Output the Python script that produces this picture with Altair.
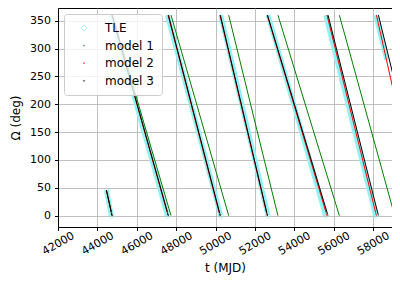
import altair as alt
import pandas as pd

series_names = ["TLE", "model 1", "model 2", "model 3"]
series_colors = ["#8ef3f3", "#008000", "#ff0000", "#000000"]

x_ticks = [42000, 44000, 46000, 48000, 50000, 52000, 54000, 56000, 58000]
y_ticks = [0, 50, 100, 150, 200, 250, 300, 350]

# TLE RAAN history (wrapping 360 -> 0)
tle_t = [44458, 44712, 44712, 47556, 47556, 50263, 50263, 52665, 52665, 55596, 55596, 58136, 58136, 58700]
tle_om = [46, 0, 360, 0, 360, 0, 360, 0, 360, 0, 360, 0, 360, 280]
tle_seg = [1, 1, 2, 2, 3, 3, 4, 4, 5, 5, 6, 6, 7, 7]

# model 1 (green)
m1_t = [44458, 44760, 44760, 47740, 47740, 50670, 50670, 53170, 53170, 56290, 56290, 59035]
m1_om = [46, 0, 360, 0, 360, 0, 360, 0, 360, 0, 360, 8]
m1_seg = [1, 1, 2, 2, 3, 3, 4, 4, 5, 5, 6, 6]

# model 2 (red)
m2_t = [44458, 44743, 44743, 47590, 47590, 50225, 50225, 52625, 52625, 55663, 55663, 58172, 58172, 59035]
m2_om = [46, 0, 360, 0, 360, 0, 360, 0, 360, 0, 360, 0, 360, 224]
m2_seg = [1, 1, 2, 2, 3, 3, 4, 4, 5, 5, 6, 6, 7, 7]

# model 3 (black)
m3_t = [44458, 44743, 44743, 47610, 47610, 50245, 50245, 52640, 52640, 55714, 55714, 58275, 58275, 59035]
m3_om = [46, 0, 360, 0, 360, 0, 360, 0, 360, 0, 360, 0, 360, 250]
m3_seg = [1, 1, 2, 2, 3, 3, 4, 4, 5, 5, 6, 6, 7, 7]

rows = []
for name, ts, oms, segs in [
    ("TLE", tle_t, tle_om, tle_seg),
    ("model 1", m1_t, m1_om, m1_seg),
    ("model 2", m2_t, m2_om, m2_seg),
    ("model 3", m3_t, m3_om, m3_seg),
]:
    for t, o, s in zip(ts, oms, segs):
        rows.append({"series": name, "t": t, "om": o, "seg": f"{name}-{s}"})
df = pd.DataFrame(rows)

FONT = "DejaVu Sans"
DOT = "M-0.18,0A0.18,0.18 0 1,1 0.18,0A0.18,0.18 0 1,1 -0.18,0Z"

legend = alt.Legend(
    title=None,
    orient="none",
    legendX=6,
    legendY=6,
    padding=8,
    fillColor="rgba(255,255,255,0.8)",
    strokeColor="#cccccc",
    cornerRadius=3,
    labelFontSize=12,
    labelFont=FONT,
    labelColor="black",
    rowPadding=5.6,
    labelOffset=15,
    symbolOffset=6,
    symbolSize=40,
    symbolStrokeWidth=1,
)

color = alt.Color(
    "series:N",
    scale=alt.Scale(domain=series_names, range=series_colors),
    legend=legend,
)
shape = alt.Shape(
    "series:N",
    scale=alt.Scale(domain=series_names, range=["diamond", DOT, DOT, DOT]),
    legend=legend,
)

x = alt.X(
    "t:Q",
    scale=alt.Scale(domain=[42000, 58963], nice=False, zero=False),
    axis=alt.Axis(
        values=x_ticks,
        format="d",
        title="t (MJD)",
        grid=True,
        labelAngle=-30,
        labelAlign="center",
        labelBaseline="middle",
        labelPadding=13,
        titlePadding=6,
    ),
)
y = alt.Y(
    "om:Q",
    scale=alt.Scale(domain=[-20.3, 372.8], nice=False, zero=False),
    axis=alt.Axis(values=y_ticks, title="Ω (deg)", grid=True, labelPadding=4, titlePadding=7),
)

base = alt.Chart(df)

tle_line = base.transform_filter(alt.datum.series == "TLE").mark_line(
    strokeWidth=5, clip=True
).encode(x=x, y=y, color=color, detail="seg:N")

model_lines = base.transform_filter(alt.datum.series != "TLE").mark_line(
    strokeWidth=1, clip=True
).encode(x=x, y=y, color=color, detail="seg:N")

tle_pts = base.transform_filter(
    (alt.datum.series == "TLE") & (alt.datum.om == 0)
).mark_point(filled=False, clip=True, strokeWidth=1, size=40).encode(
    x=x, y=y, color=color, shape=shape
)

chart = (
    alt.layer(tle_line, model_lines, tle_pts)
    .properties(
        width=334,
        height=219,
        padding={"left": 50, "top": 0, "right": 0, "bottom": 55},
        autosize=alt.AutoSizeParams(type="none"),
    )
    .configure_view(stroke="black", strokeWidth=1)
    .configure_axis(
        labelFont=FONT,
        titleFont=FONT,
        labelFontSize=11,
        titleFontSize=12,
        titleFontWeight="normal",
        labelColor="black",
        titleColor="black",
        domainColor="black",
        tickColor="black",
        tickSize=3.5,
        grid=True,
        gridColor="#b0b0b0",
        gridWidth=0.8,
        gridOpacity=1,
        labelPadding=2,
    )
)

chart.save("out.html", embed_options={"renderer": "svg", "actions": False})
